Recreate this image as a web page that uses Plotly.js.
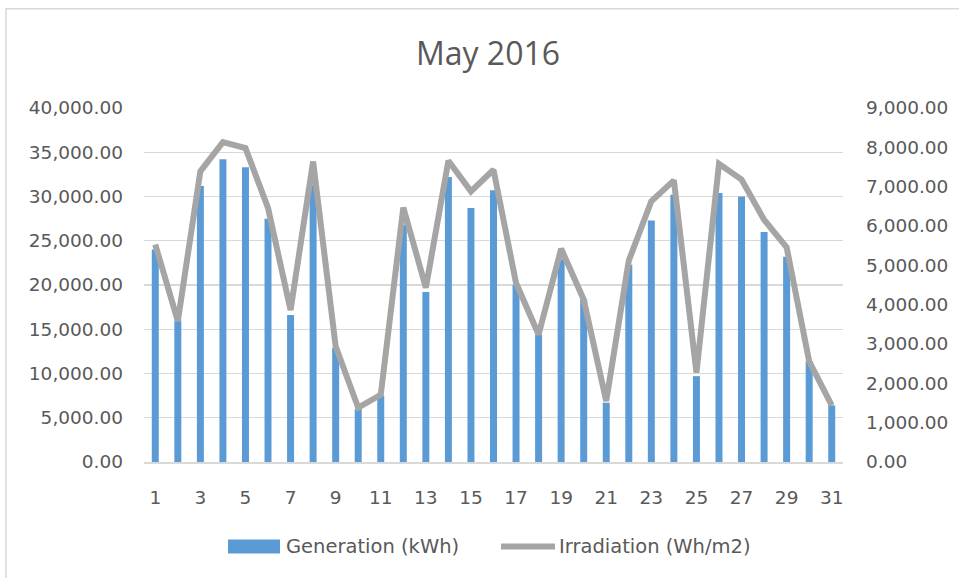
<!DOCTYPE html>
<html>
<head>
<meta charset="utf-8">
<script src="https://cdn.plot.ly/plotly-3.0.1.min.js"></script>
<style>html,body{margin:0;padding:0;background:#fff;}#chart{width:959px;height:578px;}</style>
</head>
<body>
<div id="chart"></div>
<script>
// ---- data ----
const days = [1,2,3,4,5,6,7,8,9,10,11,12,13,14,15,16,17,18,19,20,21,22,23,24,25,26,27,28,29,30,31];
const generationKWh = [24000,16000,31200,34200,33300,27500,16600,31300,12900,6000,7500,26800,19200,32200,28700,30700,20000,14400,22900,18400,6700,22300,27300,30200,9700,30400,30000,26000,23200,11400,6400];
const irradiationWhm2 = [5530,3580,7390,8130,7980,6460,3860,7640,2940,1380,1710,6470,4430,7660,6880,7430,4550,3240,5420,4130,1550,5120,6630,7160,2270,7580,7180,6160,5460,2560,1440];
const xTickValues = [1,3,5,7,9,11,13,15,17,19,21,23,25,27,29,31];
const xTickLabels = ["1","3","5","7","9","11","13","15","17","19","21","23","25","27","29","31"];
const seriesNames = ["Generation (kWh)", "Irradiation (Wh/m2)"];
const chartTitle = "May 2016";

// ---- styling ----
const textColor = "#595959";
const gridColor = "#D9D9D9";
const barColor = "#5B9BD5";
const lineColor = "#A5A5A5";
const tickFont = {family: "DejaVu Sans", size: 18.5, color: textColor};

// plot area in pixels (for placing legend/border in paper coords)
const L = 144, R = 843, T = 108.3, B = 462.5;
const px = x => (x - L) / (R - L);
const py = y => (B - y) / (B - T);

const traces = [
  {
    type: "bar", x: days, y: generationKWh, name: seriesNames[0],
    marker: {color: barColor}, width: 0.31, yaxis: "y", showlegend: false,
    hoverinfo: "x+y"
  },
  {
    type: "scatter", mode: "lines", x: days, y: irradiationWhm2, name: seriesNames[1],
    line: {color: lineColor, width: 6}, yaxis: "y2", showlegend: false,
    hoverinfo: "x+y"
  }
];

const layout = {
  width: 959, height: 578,
  margin: {l: L, r: 959 - R, t: T, b: 578 - B, pad: 0},
  paper_bgcolor: "#ffffff", plot_bgcolor: "#ffffff",
  title: {
    text: chartTitle, font: {family: "Open Sans", size: 32, color: textColor},
    xref: "container", x: 488 / 959, xanchor: "center",
    yref: "container", y: 1 - 54 / 578, yanchor: "middle"
  },
  xaxis: {
    type: "linear", range: [0.5, 31.5],
    tickmode: "array", tickvals: xTickValues, ticktext: xTickLabels,
    showgrid: false, zeroline: false, showline: true, linecolor: gridColor, linewidth: 1.5,
    ticks: "", tickfont: tickFont, ticklabelstandoff: 18, fixedrange: true
  },
  yaxis: {
    range: [0, 40000], dtick: 5000, tick0: 0, tickformat: ",.2f",
    showgrid: true, gridcolor: gridColor, gridwidth: 1.2, zeroline: false, showline: false,
    ticks: "", tickfont: tickFont, ticklabelstandoff: 20, fixedrange: true
  },
  yaxis2: {
    overlaying: "y", side: "right",
    range: [0, 9000], dtick: 1000, tick0: 0, tickformat: ",.2f",
    showgrid: false, zeroline: false, showline: false,
    ticks: "", tickfont: tickFont, ticklabelstandoff: 22, fixedrange: true
  },
  bargap: 0.69,
  showlegend: false,
  shapes: [
    // chart border
    {type: "rect", xref: "paper", yref: "paper", x0: px(6), x1: px(975), y0: py(9), y1: py(600),
     line: {color: gridColor, width: 1.5}, fillcolor: "rgba(0,0,0,0)", layer: "below"},
    // legend swatches
    {type: "rect", xref: "paper", yref: "paper", x0: px(228), x1: px(280), y0: py(554), y1: py(540),
     line: {width: 0}, fillcolor: barColor},
    {type: "line", xref: "paper", yref: "paper", x0: px(501), x1: px(555), y0: py(547), y1: py(547),
     line: {color: lineColor, width: 6}}
  ],
  annotations: [
    {xref: "paper", yref: "paper", x: px(284), y: py(547), xanchor: "left", yanchor: "middle",
     text: seriesNames[0], showarrow: false, font: {family: "DejaVu Sans", size: 19.5, color: textColor}},
    {xref: "paper", yref: "paper", x: px(557), y: py(547), xanchor: "left", yanchor: "middle",
     text: seriesNames[1], showarrow: false, font: {family: "DejaVu Sans", size: 19.5, color: textColor}}
  ]
};

Plotly.newPlot("chart", traces, layout, {displayModeBar: false, staticPlot: true});
</script>
</body>
</html>
